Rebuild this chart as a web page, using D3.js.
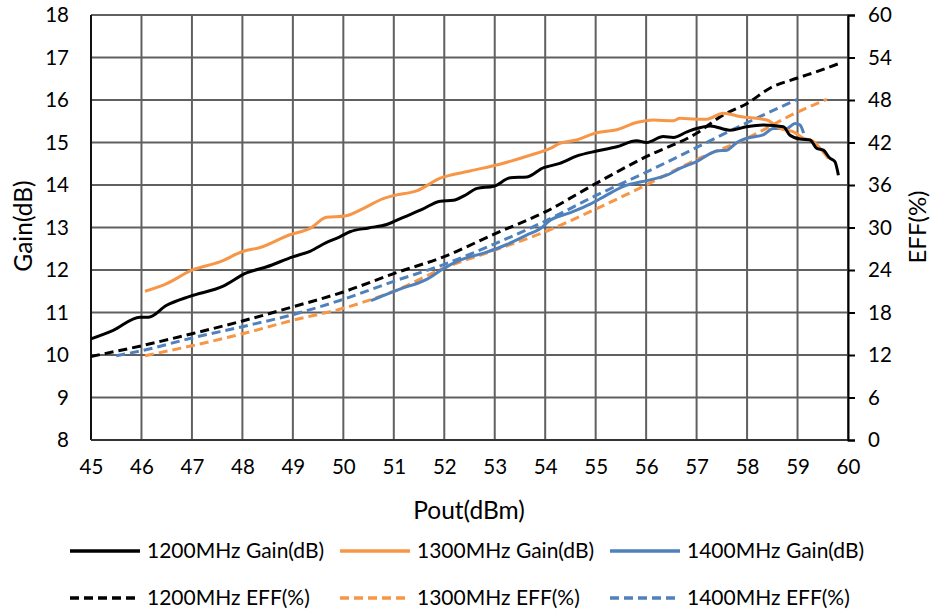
<!DOCTYPE html>
<html><head><meta charset="utf-8">
<script src="https://cdn.jsdelivr.net/npm/d3@7"></script>
<style>body{margin:0;background:#fff;} text{font-family:Lato,"Open Sans",sans-serif;fill:#000;}</style>
</head><body><svg id="c" width="933" height="614"></svg>
<script>
// ---- data ----
const xTicks = [45,46,47,48,49,50,51,52,53,54,55,56,57,58,59,60];
const gainTicks = [8,9,10,11,12,13,14,15,16,17,18];
const effTicks = [0,6,12,18,24,30,36,42,48,54,60];

const g1200x = [45,45.44,45.97,46.14,46.5,46.96,47.62,48.08,48.47,49.0,49.34,49.67,49.93,50.13,50.5,50.86,51.19,51.55,51.92,52.18,52.4,52.65,52.98,53.31,53.64,53.97,54.1,54.29,54.62,55.02,55.42,55.81,56.01,56.34,56.54,56.81,57.0,57.27,57.66,57.99,58.32,58.72,58.85,59.05,59.25,59.38,59.51,59.64,59.74,59.81];
const g1200y = [10.38,10.58,10.89,10.89,11.17,11.38,11.62,11.93,12.07,12.31,12.44,12.65,12.78,12.9,12.99,13.07,13.24,13.42,13.62,13.64,13.75,13.92,13.97,14.17,14.19,14.41,14.45,14.51,14.68,14.8,14.9,15.04,15.0,15.14,15.12,15.25,15.33,15.39,15.29,15.37,15.41,15.37,15.17,15.08,15.06,14.86,14.82,14.63,14.55,14.23];

const g1300x = [46.07,46.5,46.99,47.55,48.02,48.35,48.94,49.34,49.67,50.03,50.4,50.79,50.99,51.45,51.92,52.51,53.1,53.7,54.1,54.29,54.62,55.02,55.42,55.81,56.14,56.54,56.67,57.0,57.2,57.53,57.86,58.39,58.65,58.92,59.12,59.32,59.45,59.61];
const g1300y = [11.5,11.68,11.99,12.19,12.44,12.53,12.83,12.98,13.24,13.27,13.45,13.68,13.75,13.86,14.16,14.33,14.49,14.7,14.86,14.98,15.06,15.23,15.3,15.47,15.53,15.51,15.57,15.55,15.55,15.69,15.61,15.53,15.33,15.25,15.1,15.02,14.86,14.63];

const g1400x = [50.55,51.12,51.65,51.98,52.31,52.84,53.24,53.63,53.9,54.1,54.5,54.89,55.2,55.54,56.08,56.41,56.67,57.0,57.4,57.6,57.8,57.99,58.32,58.52,58.79,58.95,59.05,59.12];
const g1400y = [11.28,11.55,11.78,12.03,12.23,12.42,12.6,12.82,12.97,13.17,13.35,13.55,13.75,13.96,14.12,14.23,14.39,14.55,14.8,14.82,15.0,15.1,15.18,15.33,15.33,15.45,15.41,15.22];

const e1200x = [45,46,47,48,49,50,51,52,53,54,55,56,57,57.53,58,58.46,59,59.38,59.84];
const e1200y = [11.8,13.3,15.0,16.8,18.8,20.9,23.5,25.9,29.1,32.2,36.2,40.0,43.3,45.9,47.5,49.7,51.1,52.0,53.2];

const e1300x = [46.07,47,48,49,50,51,52,53,54,55,56,57,58,59,59.58];
const e1300y = [11.9,13.3,15.0,16.9,18.6,21.0,24.3,26.8,29.4,32.6,36.0,39.6,42.6,46.3,48.1];

const e1400x = [45.5,46,47,48,49,49.93,51,52,53,54,55,56,57,58,59];
const e1400y = [11.9,12.6,14.4,16.0,17.7,19.7,22.4,24.8,27.7,30.9,34.5,37.8,41.3,44.8,48.1];

const seriesNames = ["1200MHz Gain(dB)","1300MHz Gain(dB)","1400MHz Gain(dB)","1200MHz EFF(%)","1300MHz EFF(%)","1400MHz EFF(%)"];
const colors = ["#000000","#F79646","#4F81BD"];

// ---- chart ----
const svg = d3.select("#c");
const L=91, R=848, T=15, B=440;
const x = d3.scaleLinear().domain([45,60]).range([L,R]);
const yG = d3.scaleLinear().domain([8,18]).range([B,T]);
const yE = d3.scaleLinear().domain([0,60]).range([B,T]);

const grid = svg.append("g");
grid.selectAll("line.v").data(xTicks).join("line")
  .attr("x1",d=>x(d)).attr("x2",d=>x(d)).attr("y1",T).attr("y2",B)
  .attr("stroke","#606060").attr("stroke-width",2);
grid.selectAll("line.h").data(gainTicks).join("line")
  .attr("x1",L).attr("x2",R).attr("y1",d=>yG(d)).attr("y2",d=>yG(d))
  .attr("stroke","#606060").attr("stroke-width",2);

// axes lines
svg.append("line").attr("x1",L).attr("x2",L).attr("y1",T).attr("y2",B).attr("stroke","#111").attr("stroke-width",2);
svg.append("line").attr("x1",L).attr("x2",R).attr("y1",B).attr("y2",B).attr("stroke","#333").attr("stroke-width",2);

const rightAxis = d3.axisRight(yE).tickValues(effTicks).tickSize(7).tickPadding(13);
const ra = svg.append("g").attr("transform",`translate(${R},0)`).call(rightAxis);
ra.select(".domain").attr("stroke","#000").attr("stroke-width",2);
ra.selectAll(".tick line").attr("stroke","#000").attr("stroke-width",2);
ra.selectAll("text").attr("font-size",20.5).attr("font-family","Lato").attr("fill","#000");

const leftAxis = d3.axisLeft(yG).tickValues(gainTicks).tickSize(0).tickPadding(22);
const la = svg.append("g").attr("transform",`translate(${L},0)`).call(leftAxis);
la.select(".domain").remove();
la.selectAll("text").attr("font-size",20.5).attr("font-family","Lato").attr("fill","#000");

const bottomAxis = d3.axisBottom(x).tickValues(xTicks).tickSize(0).tickPadding(19);
const ba = svg.append("g").attr("transform",`translate(0,${B})`).call(bottomAxis);
ba.select(".domain").remove();
ba.selectAll("text").attr("font-size",20.5).attr("font-family","Lato").attr("fill","#000");

// titles
svg.append("text").attr("x",469).attr("y",519).attr("text-anchor","middle").attr("font-size",24.5).text("Pout(dBm)");
svg.append("text").attr("transform","translate(32,226) rotate(-90)").attr("text-anchor","middle").attr("font-size",24.5).text("Gain(dB)");
svg.append("text").attr("transform","translate(926,227) rotate(-90)").attr("text-anchor","middle").attr("font-size",24).text("EFF(%)");

// lines
const mk = (xs,ys)=>xs.map((v,i)=>[v,ys[i]]);
const lineG = d3.line().x(d=>x(d[0])).y(d=>yG(d[1])).curve(d3.curveMonotoneX);
const lineE = d3.line().x(d=>x(d[0])).y(d=>yE(d[1])).curve(d3.curveMonotoneX);
const effData = [mk(e1200x,e1200y), mk(e1300x,e1300y), mk(e1400x,e1400y)];
const gainData = [mk(g1200x,g1200y), mk(g1300x,g1300y), mk(g1400x,g1400y)];

const plot = svg.append("g");
[0,1,2].forEach(i=>{
  plot.append("path").attr("d",lineE(effData[i])).attr("fill","none")
    .attr("stroke",colors[i]).attr("stroke-width",3).attr("stroke-dasharray","9,5");
});
[2,1,0].forEach(i=>{
  plot.append("path").attr("d",lineG(gainData[i])).attr("fill","none")
    .attr("stroke",colors[i]).attr("stroke-width",3);
});

// legend
const legX = [70,340,610];
const legY = [551,598];
seriesNames.forEach((name,k)=>{
  const col = k%3, row = Math.floor(k/3);
  const g = svg.append("g");
  g.append("line").attr("x1",legX[col]).attr("x2",legX[col]+70).attr("y1",legY[row]).attr("y2",legY[row])
    .attr("stroke",colors[col]).attr("stroke-width",3.5)
    .attr("stroke-dasharray",row===1?"9,5":null);
  g.append("text").attr("x",legX[col]+77).attr("y",legY[row]).attr("dy","0.35em")
    .attr("font-size",21).text(name);
});
</script></body></html>
